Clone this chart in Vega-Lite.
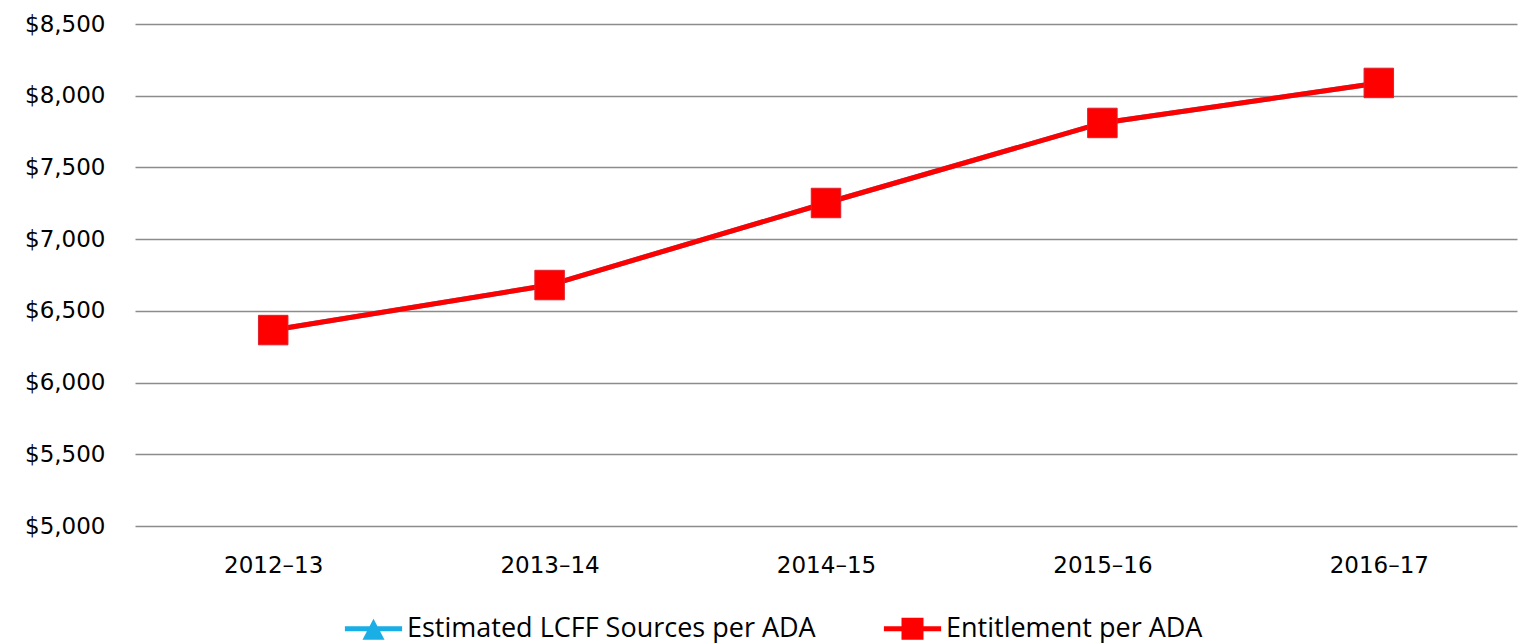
{
  "$schema": "https://vega.github.io/schema/vega-lite/v6.json",
  "width": 1382,
  "height": 502,
  "autosize": {"type": "none"},
  "padding": {"left": 135, "top": 24, "right": 4, "bottom": 117},
  "background": "white",
  "data": {
    "values": [
      {"year": "2012–13", "series": "Estimated LCFF Sources per ADA", "value": 6366},
      {"year": "2013–14", "series": "Estimated LCFF Sources per ADA", "value": 6680},
      {"year": "2014–15", "series": "Estimated LCFF Sources per ADA", "value": 7252},
      {"year": "2015–16", "series": "Estimated LCFF Sources per ADA", "value": 7810},
      {"year": "2016–17", "series": "Estimated LCFF Sources per ADA", "value": 8089},
      {"year": "2012–13", "series": "Entitlement per ADA", "value": 6366},
      {"year": "2013–14", "series": "Entitlement per ADA", "value": 6680},
      {"year": "2014–15", "series": "Entitlement per ADA", "value": 7252},
      {"year": "2015–16", "series": "Entitlement per ADA", "value": 7810},
      {"year": "2016–17", "series": "Entitlement per ADA", "value": 8089}
    ]
  },
  "config": {
    "view": {"stroke": null},
    "font": "DejaVu Sans",
    "axis": {"labelFont": "DejaVu Sans", "labelFontSize": 23, "labelColor": "#000000"}
  },
  "encoding": {
    "x": {
      "field": "year", "type": "ordinal",
      "scale": {"paddingInner": 0, "paddingOuter": 0},
      "axis": {"title": null, "domain": false, "ticks": false, "grid": false, "labelAngle": 0, "labelPadding": 28}
    },
    "y": {
      "field": "value", "type": "quantitative",
      "scale": {"domain": [5000, 8500], "zero": false, "nice": false},
      "axis": {"title": null, "domain": false, "ticks": false, "values": [5000, 5500, 6000, 6500, 7000, 7500, 8000, 8500],
        "format": "$,.0f", "labelPadding": 30, "gridColor": "#8c8c8c", "gridWidth": 1.5, "gridOpacity": 1}
    },
    "color": {
      "field": "series", "type": "nominal",
      "scale": {"domain": ["Estimated LCFF Sources per ADA", "Entitlement per ADA"], "range": ["#1aaee6", "#ff0000"]},
      "legend": {
        "title": null, "orient": "none", "legendX": 225, "legendY": 591, "direction": "horizontal",
        "labelFont": "Open Sans", "labelFontSize": 27, "labelColor": "#000000",
        "symbolSize": 484, "labelOffset": 20, "columnPadding": 67,
        "labelLimit": 600,
        "encode": {
          "symbols": {
            "update": {
              "shape": {"signal": "datum.value === 'Entitlement per ADA' ? 'M-2.6,-0.22H2.6V0.22H-2.6Z M-1,-1H1V1H-1Z' : 'M-2.6,-0.22H2.6V0.22H-2.6Z M0,-0.9L1,1H-1Z'"},
              "strokeWidth": {"value": 0},
              "fillOpacity": {"value": 1},
              "opacity": {"value": 1}
            }
          }
        }
      }
    }
  },
  "layer": [
    {
      "mark": {"type": "line", "strokeWidth": 5}
    },
    {
      "transform": [{"filter": "datum.series === 'Estimated LCFF Sources per ADA'"}],
      "mark": {"type": "point", "shape": "triangle-up", "filled": true, "size": 870, "opacity": 1}
    },
    {
      "transform": [{"filter": "datum.series === 'Entitlement per ADA'"}],
      "mark": {"type": "point", "shape": "square", "filled": true, "size": 870, "opacity": 1, "stroke": "#e0202a", "strokeWidth": 1}
    }
  ]
}
